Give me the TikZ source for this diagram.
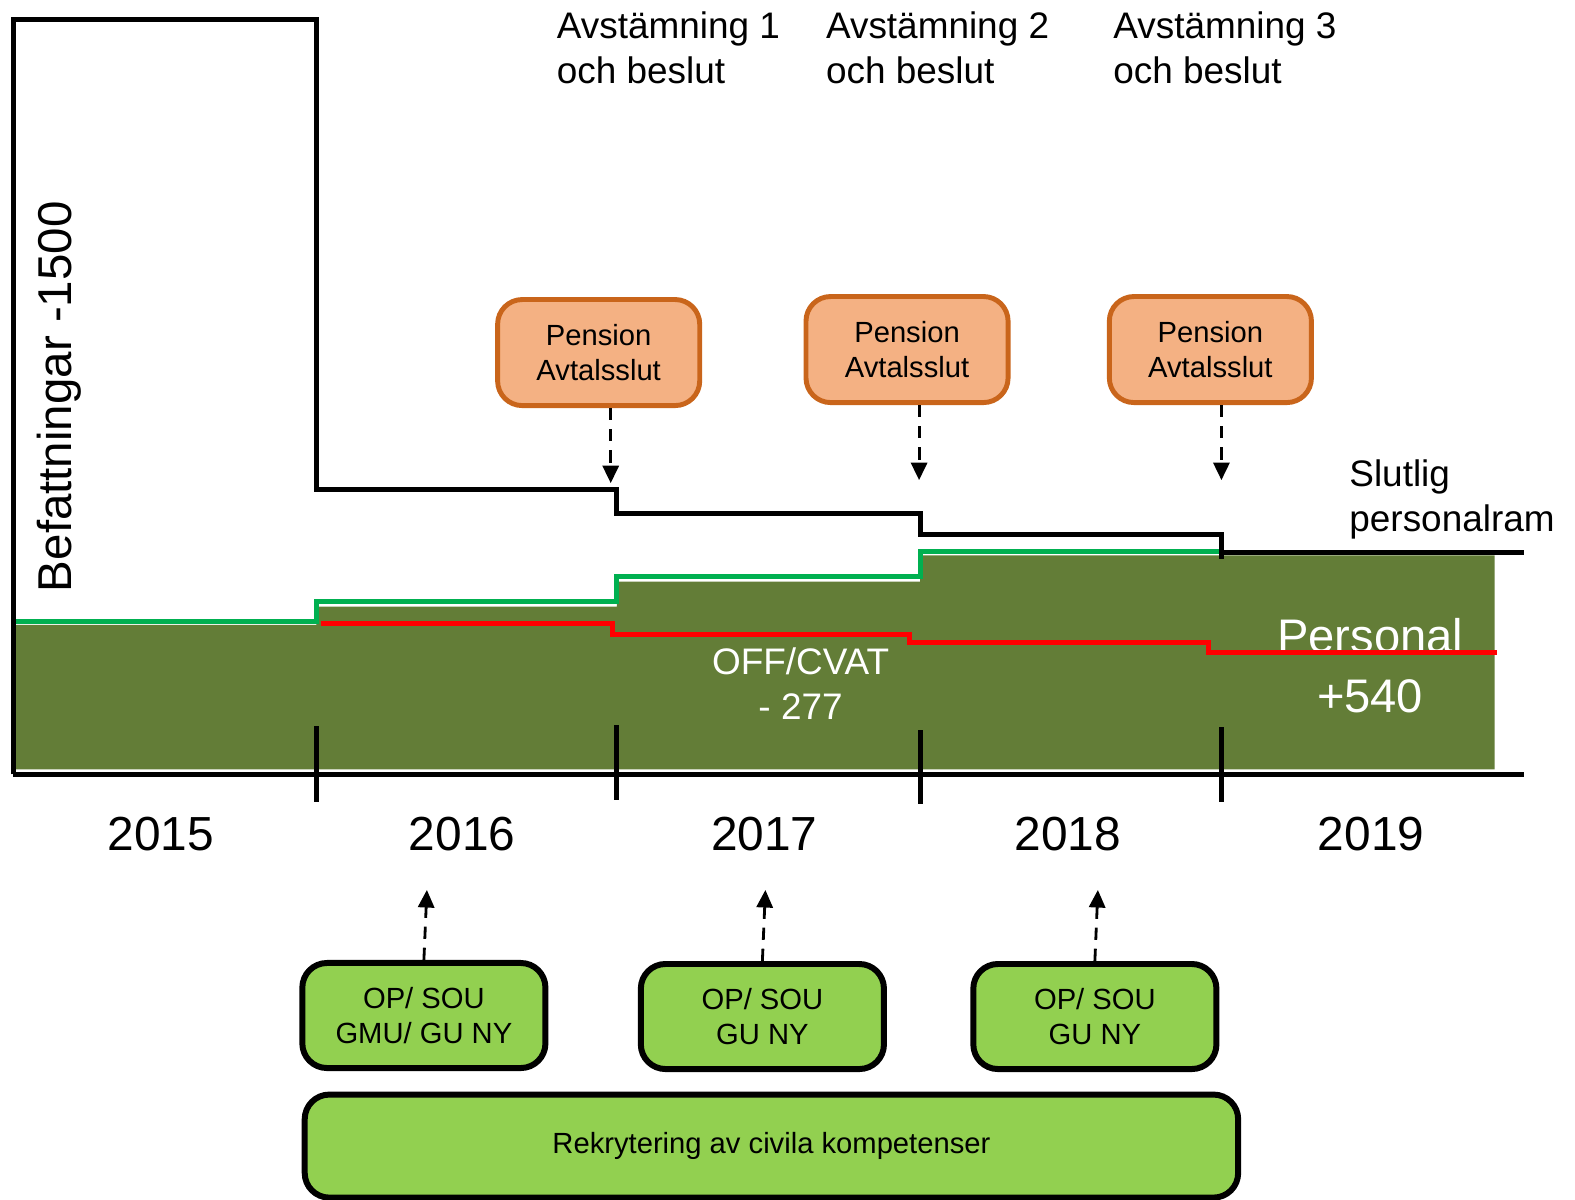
\documentclass[tikz,border=0pt]{standalone}
\usepackage{fontspec}
\setmainfont{Liberation Sans}
\usetikzlibrary{positioning, arrows.meta}
\definecolor{olivefill}{HTML}{637D37}
\definecolor{rimgreen}{HTML}{00B050}
\definecolor{penfill}{HTML}{F4B183}
\definecolor{penrim}{HTML}{C9651B}
\definecolor{opfill}{HTML}{92D050}

\begin{document}
\begin{tikzpicture}[x=0.010045cm, y=-0.010045cm, thick,
  pension/.style = {draw=penrim, fill=penfill, line width=1.4pt, rounded corners=7pt, minimum width=2.02cm, minimum height=1.06cm, align=center, font=\fontsize{8.3}{10}\selectfont},
  opbox/.style = {draw, fill=opfill, line width=1.7pt, rounded corners=7pt, minimum width=2.43cm, minimum height=1.05cm, align=center, font=\fontsize{8.3}{10}\selectfont},
  yearlab/.style = {font=\fontsize{13.6}{16}\selectfont},
  toplab/.style = {anchor=north west, inner sep=0pt, align=left, font=\fontsize{10.5}{12.8}\selectfont},
  dasharrow/.style = {line width=0.8pt, dash pattern=on 3.5pt off 2.5pt, -{Triangle[length=5pt, width=4.6pt]}},
  stepline/.style = {line width=1.4pt}]

\useasboundingbox (0,0) rectangle (1568,1194);

% personal area
\fill[olivefill] (13,622) -- (315,622) -- (315,604) -- (614,604) -- (614,579) -- (916,579) -- (916,553) -- (1488,553) -- (1488,766) -- (13,766) -- cycle;

% labels
\node[rotate=90, anchor=base, font=\fontsize{13.5}{16}\selectfont] (befatt) at (71,395) {Befattningar -1500};
\node[toplab] (avst1) at (553,10) {Avstämning 1\\och beslut};
\node[toplab] (avst2) at (821,10) {Avstämning 2\\och beslut};
\node[toplab] (avst3) at (1107,10) {Avstämning 3\\och beslut};
\node[toplab] (slutlig) at (1342,456) {Slutlig\\personalram};
\node[text=white, align=center, font=\fontsize{10.5}{12.8}\selectfont] (offcvat) at (797,681) {OFF/CVAT\\- 277};
\node[text=white, align=center, font=\fontsize{13.4}{17}\selectfont] (personal) at (1364,663) {Personal\\+540};

% green, black and red steps
\draw[rimgreen, stepline] (13,619) -- (315,619) -- (315,599) -- (614,599) -- (614,574) -- (916,574) -- (916,549) -- (1216,549);
\draw[stepline] (13,771) -- (13,19) -- (315,19) -- (315,487) -- (614,487) -- (614,511) -- (916,511) -- (916,532) -- (1216,532) -- (1216,557);
\draw[stepline] (1216,550) -- (1517,550);
\draw[red, stepline] (320,621) -- (610,621) -- (610,632) -- (905,632) -- (905,640) -- (1203,640) -- (1203,650) -- (1490,650);

% time axis
\draw[line width=1.6pt] (13,771) -- (1517,771);
\draw[stepline] (315,723) -- (315,798);
\draw[stepline] (614,722) -- (614,796);
\draw[stepline] (916,727) -- (916,800);
\draw[stepline] (1216,724) -- (1216,798);
\node[yearlab] (y2015) at (160,830) {2015};
\node[yearlab] (y2016) at (460,830) {2016};
\node[yearlab] (y2017) at (761,830) {2017};
\node[yearlab] (y2018) at (1063,830) {2018};
\node[yearlab] (y2019) at (1365,830) {2019};

% pension boxes
\node[pension] (pen1) at (596,351) {Pension\\Avtalsslut};
\node[pension] (pen2) at (903,348) {Pension\\Avtalsslut};
\node[pension] (pen3) at (1205,348) {Pension\\Avtalsslut};
\coordinate (pa1) at (608,481);
\coordinate (pa2) at (915,478);
\coordinate (pa3) at (1216,478);
\draw[dasharrow] (pen1.south -| pa1) -- (pa1);
\draw[dasharrow] (pen2.south -| pa2) -- (pa2);
\draw[dasharrow] (pen3.south -| pa3) -- (pa3);

% recruitment boxes
\node[opbox] (op1) at (422,1011) {OP/ SOU\\GMU/ GU NY};
\node[opbox] (op2) at (759,1012) {OP/ SOU\\GU NY};
\node[opbox] (op3) at (1090,1012) {OP/ SOU\\GU NY};
\node[opbox, minimum width=9.33cm, minimum height=1.03cm] (rekr) at (768,1141) {Rekrytering av civila kompetenser};
\coordinate (oa1) at (425,886);
\coordinate (oa2) at (762,886);
\coordinate (oa3) at (1093,886);
\draw[dasharrow] (op1.north) -- (oa1);
\draw[dasharrow] (op2.north) -- (oa2);
\draw[dasharrow] (op3.north) -- (oa3);
\end{tikzpicture}
\end{document}
